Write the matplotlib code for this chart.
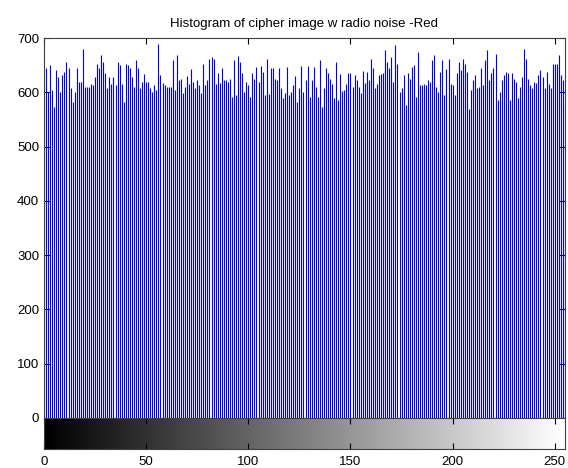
import numpy as np
import matplotlib
matplotlib.use("Agg")
import matplotlib.pyplot as plt

title = "Histogram of cipher image w radio noise -Red"

counts_0_40 = [610, 644, 601, 650, 604, 573, 641, 628, 601, 632, 638, 655, 644, 607, 582, 601, 644, 619, 619, 679,
               609, 609, 609, 616, 613, 628, 653, 644, 668, 656, 635, 607, 628, 616, 628, 613, 655, 650, 616, 582, 653]
counts_41_82 = [651, 644, 628, 610, 659, 644, 607, 619, 633, 619, 619, 607, 601, 614, 604, 689, 632, 617, 614, 609,
                610, 610, 659, 605, 668, 622, 625, 598, 610, 630, 616, 642, 619, 607, 622, 613, 598, 653, 613, 622, 662, 665]
counts_83_124 = [662, 616, 635, 618, 645, 622, 622, 619, 624, 592, 659, 595, 667, 656, 636, 601, 619, 613, 592, 635,
                 624, 646, 619, 648, 638, 595, 661, 596, 644, 645, 625, 622, 644, 607, 589, 598, 647, 595, 601, 613, 630, 582]
counts_125_166 = [607, 648, 601, 622, 648, 592, 622, 646, 610, 592, 659, 573, 607, 644, 636, 625, 616, 589, 655, 586,
                  633, 602, 604, 616, 635, 635, 610, 632, 622, 610, 598, 639, 617, 638, 622, 662, 644, 607, 616, 632, 633, 635]
counts_167_208 = [678, 656, 644, 665, 619, 687, 653, 601, 607, 632, 576, 635, 625, 647, 650, 592, 675, 613, 613, 616,
                  613, 622, 619, 659, 668, 610, 601, 638, 659, 595, 642, 662, 616, 613, 595, 635, 656, 641, 662, 653, 638, 570]
counts_209_255 = [604, 622, 632, 607, 610, 644, 613, 659, 678, 622, 635, 644, 671, 586, 601, 622, 632, 637, 635, 586,
                  635, 625, 619, 589, 610, 628, 679, 662, 625, 613, 607, 619, 617, 632, 641, 628, 607, 638, 616, 607,
                  653, 653, 653, 668, 632, 622, 573]

counts = np.array(counts_0_40 + counts_41_82 + counts_83_124 + counts_125_166 + counts_167_208 + counts_209_255)
levels = np.arange(len(counts))

y_ticks = [0, 100, 200, 300, 400, 500, 600, 700]
x_ticks = [0, 50, 100, 150, 200, 250]

plt.rcParams['font.family'] = ['Liberation Sans', 'DejaVu Sans']

W, H = 568, 468
fig = plt.figure(figsize=(W / 100, H / 100), dpi=100)

L, R = 44 / W, 565 / W
ax = fig.add_axes([L, 1 - 418 / H, R - L, (418 - 38) / H])
cax = fig.add_axes([L, 1 - 449 / H, R - L, (449 - 418) / H])

ax.vlines(levels, 0, counts, colors='#0000ff', linewidth=0.8)
ax.set_xlim(0, 255)
ax.set_ylim(0, 700)
ax.set_yticks(y_ticks)
ax.set_xticks(x_ticks)
ax.tick_params(axis='x', which='both', top=True, bottom=False, labelbottom=False, direction='in', length=4)
ax.tick_params(axis='y', which='both', left=True, right=True, direction='in', length=4, labelsize=9.5)
ax.set_title(title, fontsize=9.5, pad=8)
for s in ax.spines.values():
    s.set_color('#404040')
    s.set_linewidth(0.8)

grad = np.linspace(0, 1, 256).reshape(1, -1)
cax.imshow(grad, cmap='gray', aspect='auto', extent=[0, 255, 0, 1], vmin=0, vmax=1)
cax.set_xlim(0, 255)
cax.set_ylim(0, 1)
cax.set_yticks([])
cax.set_xticks(x_ticks)
cax.tick_params(axis='x', top=True, bottom=True, direction='in', length=4, labelsize=9.5, pad=5)
for s in cax.spines.values():
    s.set_color('#404040')
    s.set_linewidth(0.8)

fig.savefig("out.png", dpi=100)
